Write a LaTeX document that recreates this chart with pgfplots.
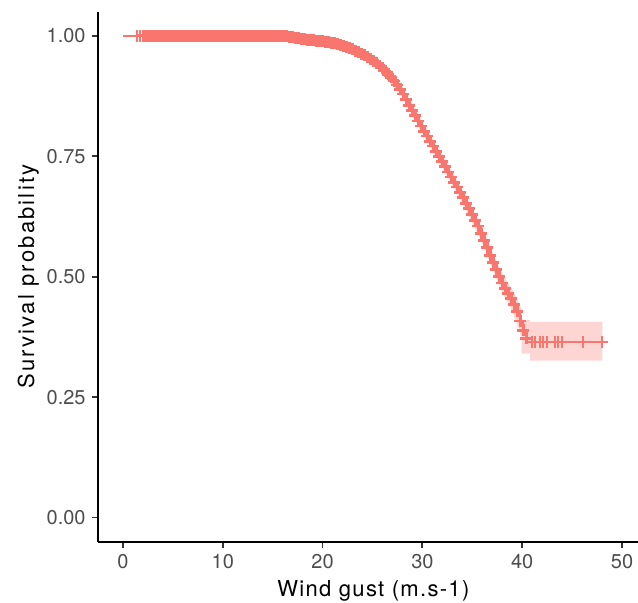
\documentclass[border=0pt]{standalone}
\usepackage{pgfplots}
\usepackage{pgfplotstable}
\pgfplotsset{compat=1.18}
\usepgfplotslibrary{fillbetween}
\usepackage{fontspec}
\setmainfont{TeX Gyre Heros}
\newfontfamily\xlabfont[LetterSpace=6]{TeX Gyre Heros}
\newfontfamily\ylabfont[LetterSpace=10]{TeX Gyre Heros}
\definecolor{km}{HTML}{F8766D}
\definecolor{tickc}{HTML}{333333}
\definecolor{tlab}{HTML}{4D4D4D}

% Kaplan-Meier estimate: time, survival (censored observations marked with +)
\pgfplotstableread{
x y
0 1.000
1.4 1.000
1.7 1.000
2.0 1.000
2.15 1.000
2.3 1.000
2.45 1.000
2.6 1.000
2.75 1.000
2.9 1.000
3.05 1.000
3.2 1.000
3.35 1.000
3.5 1.000
3.65 1.000
3.8 1.000
3.95 1.000
4.1 1.000
4.25 1.000
4.4 1.000
4.55 1.000
4.7 1.000
4.85 1.000
5.0 1.000
5.15 1.000
5.3 1.000
5.45 1.000
5.6 1.000
5.75 1.000
5.9 1.000
6.05 1.000
6.2 1.000
6.35 1.000
6.5 1.000
6.65 1.000
6.8 1.000
6.95 1.000
7.1 1.000
7.25 1.000
7.4 1.000
7.55 1.000
7.7 1.000
7.85 1.000
8.0 1.000
8.15 1.000
8.3 1.000
8.45 1.000
8.6 1.000
8.75 1.000
8.9 1.000
9.05 1.000
9.2 1.000
9.35 1.000
9.5 1.000
9.65 1.000
9.8 1.000
9.95 1.000
10.1 1.000
10.25 1.000
10.4 1.000
10.55 1.000
10.7 1.000
10.85 1.000
11.0 1.000
11.15 1.000
11.3 1.000
11.45 1.000
11.6 1.000
11.75 1.000
11.9 1.000
12.05 1.000
12.2 1.000
12.35 1.000
12.5 1.000
12.65 1.000
12.8 1.000
12.95 1.000
13.1 1.000
13.25 1.000
13.4 1.000
13.55 1.000
13.7 1.000
13.85 1.000
14.0 1.000
14.15 1.000
14.3 1.000
14.45 1.000
14.6 1.000
14.75 1.000
14.9 1.000
15.05 1.000
15.2 1.000
15.35 1.000
15.5 1.000
15.65 1.000
15.8 1.000
15.95 1.000
16.1 1.000
16.4 0.999
16.7 0.998
17.0 0.997
17.3 0.996
17.6 0.995
17.9 0.994
18.2 0.993
18.5 0.992
18.8 0.992
19.1 0.991
19.4 0.990
19.7 0.990
20.0 0.989
20.3 0.988
20.6 0.987
20.9 0.985
21.2 0.984
21.5 0.983
21.8 0.981
22.1 0.979
22.4 0.977
22.7 0.974
23.0 0.972
23.3 0.969
23.6 0.966
23.9 0.963
24.2 0.960
24.5 0.956
24.8 0.952
25.1 0.948
25.4 0.943
25.7 0.938
26.0 0.933
26.3 0.927
26.6 0.920
26.9 0.914
27.2 0.906
27.5 0.898
27.8 0.889
28.1 0.879
28.4 0.868
28.7 0.856
29.0 0.845
29.3 0.834
29.6 0.823
29.9 0.813
30.2 0.802
30.5 0.792
30.8 0.781
31.1 0.771
31.4 0.760
31.7 0.750
32.0 0.739
32.3 0.728
32.6 0.717
32.9 0.707
33.2 0.696
33.5 0.686
33.8 0.675
34.1 0.664
34.4 0.652
34.7 0.641
35.0 0.629
35.3 0.617
35.6 0.605
35.9 0.589
36.2 0.575
36.5 0.560
36.8 0.544
37.1 0.529
37.4 0.515
37.7 0.501
38.0 0.487
38.3 0.476
38.6 0.465
38.9 0.455
39.2 0.442
39.5 0.428
39.8 0.408
40.1 0.389
40.4 0.372
40.95 0.364
41.28 0.364
41.78 0.364
42.12 0.364
42.45 0.364
43.29 0.364
43.62 0.364
43.96 0.364
46.12 0.364
48.03 0.364
}\kmdata

% 95% confidence band: time, lower, upper
\pgfplotstableread{
x lo hi
0 1.000 1.000
16 0.998 1.000
18 0.990 0.997
20 0.985 0.993
22 0.975 0.985
24 0.955 0.969
26 0.924 0.942
28 0.872 0.894
30 0.797 0.821
32 0.726 0.752
34 0.654 0.682
36 0.569 0.601
37 0.517 0.551
38 0.468 0.506
39 0.429 0.473
39.5 0.401 0.455
39.95 0.372 0.430
39.95 0.341 0.410
40.8 0.341 0.410
40.8 0.326 0.406
48.03 0.326 0.406
}\kmci

\begin{document}
\begin{tikzpicture}
\begin{axis}[
  scale only axis, width=270pt, height=265pt,
  xmin=-2.5, xmax=51.6, ymin=-0.05, ymax=1.05,
  axis lines*=left,
  axis line style={line width=1pt, black},
  tick align=outside, major tick length=3pt,
  tick pos=left,
  tick style={line width=0.9pt, color=tickc},
  xtick={0,10,20,30,40,50},
  ytick={0,0.25,0.5,0.75,1},
  /pgf/number format/assume math mode=true,
  yticklabel style={/pgf/number format/.cd, fixed, fixed zerofill, precision=2},
  ticklabel style={font=\fontsize{10}{12}\selectfont, color=tlab, inner sep=3pt},
  xlabel={Wind gust (m.s-1)},
  ylabel={Survival probability},
  xlabel style={at={(axis description cs:0.51,0)}, anchor=base, yshift=-27.5pt, font=\xlabfont\fontsize{11}{13}\selectfont},
  ylabel style={at={(axis description cs:-0.1185,0.5)}, anchor=base, font=\ylabfont\fontsize{11}{13}\selectfont},
]
\addplot[name path=hi, draw=none] table[x=x, y=hi] {\kmci};
\addplot[name path=lo, draw=none] table[x=x, y=lo] {\kmci};
\addplot[fill=km, fill opacity=0.3, draw=none] fill between[of=hi and lo];
\addplot[km, line width=1pt, const plot, no marks] table[x=x, y=y] {\kmdata};
% dense censoring marks
\addplot[km, only marks, mark=+, mark size=3pt, line width=1.35pt,
  restrict x to domain=1.9:40.5] table[x=x, y=y] {\kmdata};
% isolated censoring marks
\addplot[km, only marks, mark=+, mark size=3pt, line width=0.9pt,
  restrict x to domain=1:1.8] table[x=x, y=y] {\kmdata};
\addplot[km, only marks, mark=+, mark size=3pt, line width=0.9pt,
  restrict x to domain=40.6:49] table[x=x, y=y] {\kmdata};
\end{axis}
\pgfresetboundingbox
\useasboundingbox (-49pt,-30.65pt) rectangle (270pt,270.85pt);
\end{tikzpicture}
\end{document}
